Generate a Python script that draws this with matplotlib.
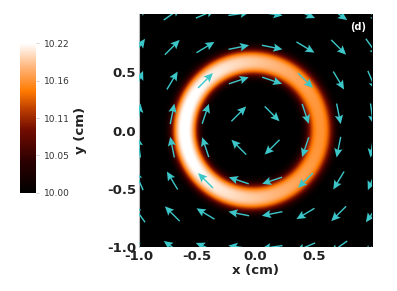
import numpy as np
import matplotlib
matplotlib.use("Agg")
import matplotlib.pyplot as plt
from matplotlib.colors import LinearSegmentedColormap

# ---- data ----
x_range = [-1.0, 1.0]
y_range = [-1.0, 1.0]
x_ticks = [-1.0, -0.5, 0.0, 0.5]
x_tick_labels = ["-1.0", "-0.5", "0.0", "0.5"]
y_ticks = [-1.0, -0.5, 0.0, 0.5]
y_tick_labels = ["-1.0", "-0.5", "0.0", "0.5"]
cbar_ticks = [10.00, 10.055, 10.11, 10.165, 10.22]
cbar_tick_labels = ["10.00", "10.05", "10.11", "10.16", "10.22"]
value_min = 10.00
value_max = 10.22

# ring (density) field parameters
ring_center = (-0.03, 0.0)
ring_radius = 0.58
ring_halfwidth = 0.09
ring_shape_exponent = 3.0
ring_peak_left = 0.225   # excess above background at left side
ring_peak_right = 0.165  # excess above background at right side

# arrow (velocity) grid: clockwise rotation, uniform arrow length
arrow_x = [-1.0, -0.714, -0.429, -0.143, 0.143, 0.429, 0.714, 1.0]
arrow_y = [-1.0, -0.714, -0.429, -0.143, 0.143, 0.429, 0.714, 1.0]
arrow_length = 0.18

# ---- figure ----
fig = plt.figure(figsize=(3.97, 2.91), dpi=100)
ax = fig.add_axes([0.350, 0.151, 0.587, 0.801])
ax.set_facecolor("black")

cmap = LinearSegmentedColormap.from_list(
    "ring",
    [(0.0, "#000000"), (0.22, "#2e0000"), (0.42, "#720c00"),
     (0.55, "#b83a00"), (0.68, "#ff7a00"), (0.84, "#ffb57a"),
     (1.0, "#ffffff")])

n = 600
gx = np.linspace(x_range[0], x_range[1], n)
gy = np.linspace(y_range[0], y_range[1], n)
X, Y = np.meshgrid(gx, gy)
R = np.hypot(X - ring_center[0], Y - ring_center[1])
TH = np.arctan2(Y - ring_center[1], X - ring_center[0])
amp = 0.5 * (ring_peak_left + ring_peak_right) - 0.5 * (ring_peak_left - ring_peak_right) * np.cos(TH)
profile = np.exp(-0.5 * (np.abs(R - ring_radius) / ring_halfwidth) ** ring_shape_exponent)
field = value_min + amp * profile

im = ax.imshow(field, origin="lower", extent=[x_range[0], x_range[1], y_range[0], y_range[1]],
               cmap=cmap, vmin=value_min, vmax=value_max, interpolation="bilinear", aspect="auto")

AX, AY = np.meshgrid(np.array(arrow_x), np.array(arrow_y))
AR = np.hypot(AX, AY)
U = AY / AR * arrow_length
V = -AX / AR * arrow_length
ax.quiver(AX, AY, U, V, color="#3cc6c8", units="xy", angles="xy", scale_units="xy", scale=1,
          pivot="mid", width=0.012, headwidth=6, headlength=6.5, headaxislength=5.5,
          clip_on=True, zorder=3)

ax.set_xlim(x_range)
ax.set_ylim(y_range)
ax.set_xticks(x_ticks)
ax.set_xticklabels(x_tick_labels)
ax.set_yticks(y_ticks)
ax.set_yticklabels(y_tick_labels)
ax.tick_params(length=0, pad=2, labelsize=9.5, colors="#222222")
for lab in ax.get_xticklabels() + ax.get_yticklabels():
    lab.set_fontweight("bold")
for s in ax.spines.values():
    s.set_visible(False)
ax.spines["left"].set_visible(True)
ax.spines["left"].set_color("#bbbbbb")
ax.spines["left"].set_linewidth(0.8)

ax.set_xlabel("x (cm)", fontsize=9.5, fontweight="bold", color="#222222", labelpad=1)
ax.set_ylabel("y (cm)", fontsize=9.5, fontweight="bold", color="#222222")
ax.yaxis.set_label_coords(-0.225, 0.5)
ax.text(0.975, 0.965, "(d)", transform=ax.transAxes, color="white", fontsize=7,
        fontweight="bold", ha="right", va="top")

cax = fig.add_axes([0.050, 0.337, 0.040, 0.515])
cb = fig.colorbar(im, cax=cax)
cb.outline.set_visible(False)
cb.set_ticks(cbar_ticks)
cb.set_ticklabels(cbar_tick_labels)
cax.tick_params(length=2, width=0.6, color="#cccccc", labelsize=6.5, labelcolor="#333333", pad=4)

fig.savefig("out.png", dpi=100)
